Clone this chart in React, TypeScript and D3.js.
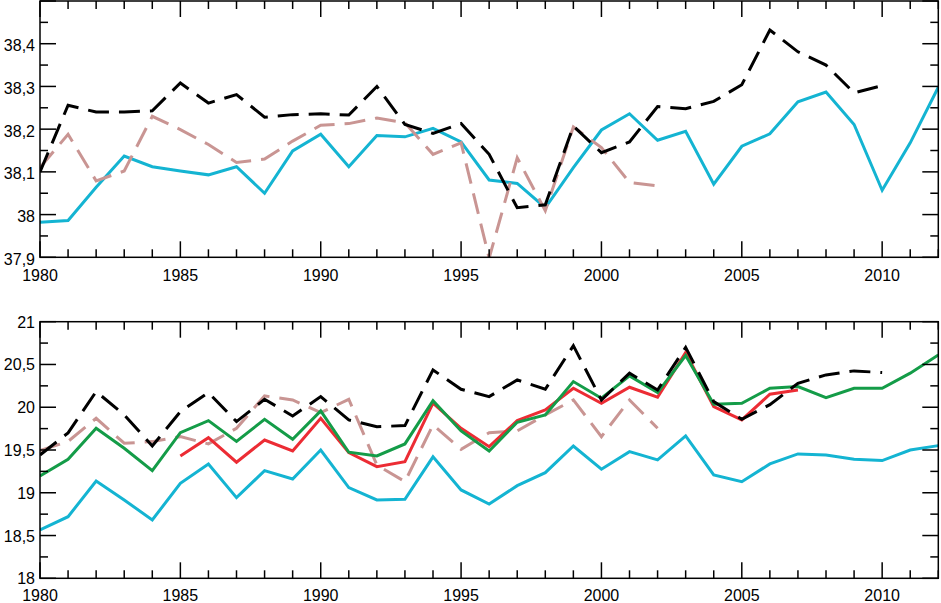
import React from "react";
import * as d3 from "d3";

// ---------- DATA ----------
const years: number[] = d3.range(1980, 2013);

// Top panel (1980-2012)
const topCyan: (number | null)[] = [
  37.982, 37.986, 38.064, 38.137, 38.112, 38.102, 38.093, 38.112, 38.05, 38.149,
  38.188, 38.112, 38.185, 38.182, 38.202, 38.17, 38.081, 38.073, 38.016, 38.11,
  38.198, 38.236, 38.174, 38.195, 38.071, 38.16, 38.189, 38.264, 38.287, 38.211,
  38.057, 38.168, 38.298,
];
const topBlack: (number | null)[] = [
  38.1, 38.256, 38.24, 38.24, 38.243, 38.308, 38.261, 38.281, 38.228, 38.234,
  38.236, 38.233, 38.3, 38.211, 38.19, 38.213, 38.141, 38.016, 38.023, 38.207,
  38.145, 38.17, 38.253, 38.248, 38.265, 38.304, 38.432, 38.381, 38.35, 38.285,
  38.302, null, null,
];
const topPink: (number | null)[] = [
  38.11, 38.188, 38.079, 38.102, 38.23, 38.199, 38.164, 38.122, 38.13, 38.172,
  38.209, 38.213, 38.226, 38.215, 38.141, 38.168, 37.898, 38.133, 38.009, 38.205,
  38.157, 38.075, 38.067, null, null, null, null, null, null, null,
  null, null, null,
];

// Bottom panel (1980-2012)
const botCyan: (number | null)[] = [
  18.565, 18.72, 19.138, 18.916, 18.682, 19.111, 19.337, 18.943, 19.259, 19.161,
  19.5, 19.06, 18.916, 18.924, 19.42, 19.033, 18.869, 19.083, 19.235, 19.547,
  19.275, 19.481, 19.384, 19.664, 19.208, 19.13, 19.337, 19.454, 19.442, 19.392,
  19.376, 19.5, 19.551,
];
const botGreen: (number | null)[] = [
  19.196, 19.392, 19.754, 19.52, 19.259, 19.703, 19.843, 19.6, 19.859, 19.626,
  19.957, 19.474, 19.43, 19.571, 20.077, 19.723, 19.489, 19.824, 19.91, 20.3,
  20.105, 20.366, 20.171, 20.604, 20.035, 20.047, 20.222, 20.241, 20.112, 20.222,
  20.222, 20.398, 20.612,
];
const botRed: (number | null)[] = [
  null, null, null, null, null, 19.43, 19.644, 19.357, 19.617, 19.489,
  19.871, 19.469, 19.305, 19.364, 20.047, 19.754, 19.539, 19.843, 19.968, 20.222,
  20.047, 20.234, 20.117, 20.639, 20.007, 19.851, 20.152, 20.202, null, null,
  null, null, null,
];
const botBlack: (number | null)[] = [
  19.442, 19.7, 20.183, 19.91, 19.547, 19.949, 20.171, 19.832, 20.093, 19.898,
  20.124, 19.851, 19.773, 19.785, 20.436, 20.21, 20.124, 20.319, 20.21, 20.72,
  20.085, 20.398, 20.202, 20.7, 20.066, 19.86, 20.03, 20.28, 20.378, 20.425,
  20.405, null, null,
];
const botPink: (number | null)[] = [
  19.493, 19.6, 19.871, 19.579, 19.598, 19.656, 19.571, 19.754, 20.132, 20.085,
  19.937, 20.093, 19.325, 19.13, 19.793, 19.508, 19.703, 19.723, 19.91, 20.085,
  19.656, 20.085, 19.754, null, null, null, null, null, null, null,
  null, null, null,
];

const xTickLabels: number[] = [1980, 1985, 1990, 1995, 2000, 2005, 2010];
const topYLabels: string[] = ["37,9", "38", "38,1", "38,2", "38,3", "38,4"];
const topYValues: number[] = [37.9, 38, 38.1, 38.2, 38.3, 38.4];
const botYLabels: string[] = ["18", "18,5", "19", "19,5", "20", "20,5", "21"];
const botYValues: number[] = [18, 18.5, 19, 19.5, 20, 20.5, 21];

// ---------- STYLE ----------
const W = 941;
const H = 603;
const left = 40;
const right = 938.3;
const FONT = "'Liberation Sans', Arial, Helvetica, sans-serif";
const COL = {
  cyan: "#14b4d2",
  green: "#149c48",
  red: "#ec2c34",
  black: "#000000",
  pink: "#c99593",
};

type Series = { data: (number | null)[]; color: string; dash?: string };

interface PanelProps {
  top: number;
  bottom: number;
  yDomain: [number, number];
  majorStep: number;
  minorStep: number;
  yLabels: string[];
  yValues: number[];
  series: Series[];
  id: string;
  labelOffset: number;
  yLabelShift: number;
}

const x = d3.scaleLinear().domain([1980, 2012]).range([left, right]);

function Panel(p: PanelProps) {
  const y = d3.scaleLinear().domain(p.yDomain).range([p.bottom, p.top]);
  const line = d3
    .line<number | null>()
    .defined((d) => d != null)
    .x((_, i) => x(years[i]))
    .y((d) => y(d as number));

  const nMinor = Math.round((p.yDomain[1] - p.yDomain[0]) / p.minorStep);
  const yTicks = d3.range(0, nMinor + 1).map((i) => p.yDomain[0] + i * p.minorStep);
  const majorEvery = Math.round(p.majorStep / p.minorStep);

  const MAJ = 16;
  const MIN = 8;
  const tickEls: React.ReactNode[] = [];
  years.forEach((yr) => {
    const len = yr % 5 === 0 ? MAJ : MIN;
    const xx = x(yr);
    tickEls.push(<line key={`xb${yr}`} x1={xx} x2={xx} y1={p.bottom} y2={p.bottom - len} />);
    tickEls.push(<line key={`xt${yr}`} x1={xx} x2={xx} y1={p.top} y2={p.top + len} />);
  });
  yTicks.forEach((v, i) => {
    const len = i % majorEvery === 0 ? MAJ : MIN;
    const yy = y(v);
    tickEls.push(<line key={`yl${i}`} x1={left} x2={left + len} y1={yy} y2={yy} />);
    tickEls.push(<line key={`yr${i}`} x1={right} x2={right - len} y1={yy} y2={yy} />);
  });

  return (
    <g>
      <defs>
        <clipPath id={`clip-${p.id}`}>
          <rect x={left} y={p.top} width={right - left} height={p.bottom - p.top} />
        </clipPath>
      </defs>
      <g clipPath={`url(#clip-${p.id})`}>
        {p.series.map((s, i) => (
          <path
            key={i}
            d={line(s.data) || ""}
            fill="none"
            stroke={s.color}
            strokeWidth={3}
            strokeDasharray={s.dash}
            strokeLinejoin="miter"
          />
        ))}
      </g>
      <g stroke="#000" strokeWidth={1.5}>
        {tickEls}
        <rect x={left} y={p.top} width={right - left} height={p.bottom - p.top} fill="none" />
      </g>
      <g fontFamily={FONT} fontSize={16} fill="#000">
        {p.yValues.map((v, i) => (
          <text
            key={`yl${i}`}
            x={left - 5}
            y={y(v) + p.yLabelShift}
            textAnchor="end"
            dominantBaseline="central"
          >
            {p.yLabels[i]}
          </text>
        ))}
        {xTickLabels.map((yr) => (
          <text key={`xl${yr}`} x={x(yr)} y={p.bottom + p.labelOffset} textAnchor="middle">
            {yr}
          </text>
        ))}
      </g>
    </g>
  );
}

export default function App() {
  const dash = "21,10";
  return (
    <svg
      width={W}
      height={H}
      style={{ position: "absolute", left: 0, top: 0, background: "#fff" }}
    >
      <rect width={W} height={H} fill="#fff" />
      <Panel
        id="top"
        top={1}
        bottom={257.3}
        yDomain={[37.9, 38.5]}
        majorStep={0.1}
        minorStep={0.05}
        yLabels={topYLabels}
        yValues={topYValues}
        labelOffset={24}
        yLabelShift={2}
        series={[
          { data: topCyan, color: COL.cyan },
          { data: topPink, color: COL.pink, dash },
          { data: topBlack, color: COL.black, dash },
        ]}
      />
      <Panel
        id="bot"
        top={321.7}
        bottom={578.3}
        yDomain={[18, 21]}
        majorStep={0.5}
        minorStep={0.25}
        yLabels={botYLabels}
        yValues={botYValues}
        labelOffset={22.7}
        yLabelShift={0.5}
        series={[
          { data: botCyan, color: COL.cyan },
          { data: botPink, color: COL.pink, dash },
          { data: botRed, color: COL.red },
          { data: botGreen, color: COL.green },
          { data: botBlack, color: COL.black, dash },
        ]}
      />
    </svg>
  );
}
